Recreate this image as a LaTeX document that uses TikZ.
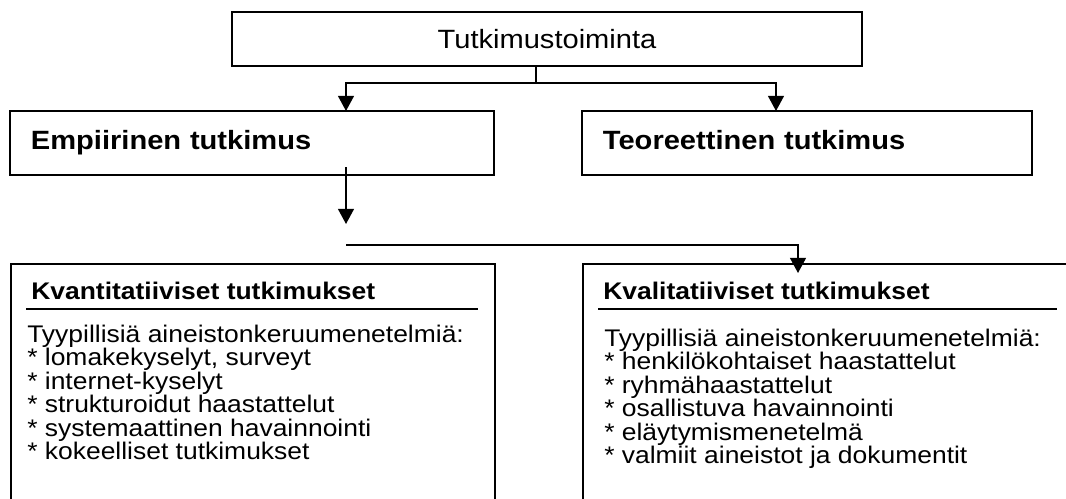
\documentclass[tikz,border=0pt]{standalone}
\usepackage{fontspec}
\setmainfont{Liberation Sans}[FakeStretch=1.10]
\usetikzlibrary{arrows.meta}

\tikzset{
  box/.style={draw, line width=1.1pt, inner sep=0pt},
  arr/.style={line width=1.1pt, -{Triangle[width=0.4cm,length=0.38cm]}},
  bigtext/.style={font=\fontsize{18.8}{22}\selectfont},
  boldtext/.style={font=\fontsize{18.8}{22}\selectfont\bfseries, execute at begin node=\strut},
  titletext/.style={font=\fontsize{17.1}{20}\selectfont\bfseries, anchor=base west, inner sep=0pt},
  listtext/.style={font=\fontsize{17.1}{20}\selectfont, anchor=base west, inner sep=0pt},
}

\begin{document}
\begin{tikzpicture}[x=0.025cm, y=-0.025cm]
    \useasboundingbox (0,0) rectangle (1066,499);
    % upper levels
    \node[box, bigtext, minimum width=15.75cm, minimum height=1.35cm] (top) at (547,39) {Tutkimustoiminta};
    \node[box, boldtext, minimum height=1.6cm, text width=11.05cm, inner xsep=0.525cm, align=left] (emp) at (252,143) {Empiirinen tutkimus};
    \node[box, boldtext, minimum height=1.6cm, text width=10.2cm, inner xsep=0.525cm, align=left] (teo) at (807,143) {Teoreettinen tutkimus};
    % lower boxes run past the edge of the picture
    \begin{scope}
        \clip (0,0) rectangle (1066,499);
        \node[box, minimum width=12.1cm, minimum height=7.5cm, anchor=north west] (kvant) at (10,263) {};
        \node[box, minimum width=14cm, minimum height=7.5cm, anchor=north west] (kval) at (582,263) {};
    \end{scope}
    \node[titletext] (kvantT) at (31,299) {Kvantitatiiviset tutkimukset};
    \node[titletext] (kvalT) at (603,299) {Kvalitatiiviset tutkimukset};
    \draw[line width=1.1pt] (26,309) -- (478,309);
    \draw[line width=1.1pt] (598,309) -- (1057,309);
    \foreach \t [count=\i] in {Tyypillisiä aineistonkeruumenetelmiä:, {* lomakekyselyt, surveyt}, * internet-kyselyt, * strukturoidut haastattelut, * systemaattinen havainnointi, * kokeelliset tutkimukset}
        \node[listtext] (kvant\i) at (27,318.5+23.5*\i) {\t};
    \foreach \t [count=\i] in {Tyypillisiä aineistonkeruumenetelmiä:, * henkilökohtaiset haastattelut, * ryhmähaastattelut, * osallistuva havainnointi, * eläytymismenetelmä, * valmiit aineistot ja dokumentit}
        \node[listtext] (kval\i) at (604,322.5+23.5*\i) {\t};
    % connectors
    \coordinate (split) at (536,83);
    \coordinate (empin) at (346,111);
    \coordinate (teoin) at (776,111);
    \draw[line width=1.1pt] (top.south -| split) -- (split);
    \draw[arr] (split) -| (empin);
    \draw[arr] (split) -| (teoin);
    \coordinate (empout) at (346,167);
    \coordinate (empend) at (346,224);
    \draw[arr] (empout) -- (empend);
    \coordinate (fork) at (346,245);
    \coordinate (kvalin) at (798,273);
    \draw[arr] (fork) -| (kvalin);
\end{tikzpicture}
\end{document}
